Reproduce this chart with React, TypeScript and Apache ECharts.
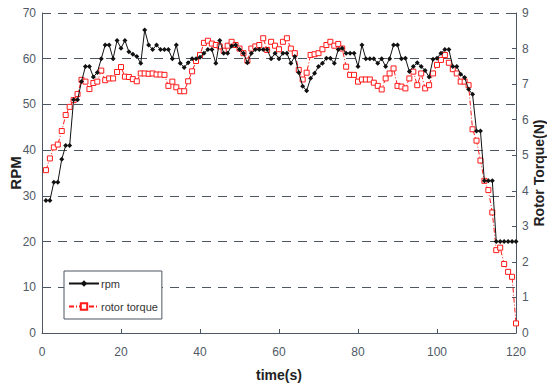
import React, { useEffect, useRef } from "react";
import * as echarts from "echarts";

const timeS: number[] = Array.from({ length: 120 }, (_, i) => i + 1);

const rpmValues: number[] = [
  29, 29, 33, 33, 38, 41, 41, 51, 51, 55,
  58.3, 58.3, 56, 57, 60, 63, 63, 60, 64, 62.3,
  64, 61.5, 61, 60.5, 59, 66.3, 63, 62, 63, 62,
  62, 62, 60, 63, 59, 58.1, 59.1, 60, 60, 60.3,
  61.2, 62, 62, 59, 64, 61.2, 61.2, 62.8, 63, 62,
  61.2, 59.1, 61.2, 62, 62, 62, 62, 60, 61.2, 60,
  61.2, 61.2, 59, 60.5, 57, 54, 53, 55.7, 56.8, 58.3,
  59, 60.1, 60.1, 59, 62, 62.3, 61.2, 61.2, 61.2, 58.3,
  63, 60, 60, 60, 59, 60, 58.3, 60, 63, 63,
  60, 60.1, 57.2, 58.3, 59.1, 58.3, 57.4, 56, 59.9, 60.1,
  61.2, 62, 62, 58.3, 58.3, 56.6, 55.9, 53.3, 52.2, 44.2,
  44.2, 33.3, 33.3, 33.3, 20, 20, 20, 20, 20, 20,
];

const torqueValues: number[] = [
  4.58, 4.91, 5.22, 5.3, 5.68, 6.13, 6.36, 6.55, 6.72, 7.12,
  7.07, 6.86, 7.03, 7.07, 7.38, 7.11, 7.16, 7.16, 7.34, 7.48,
  7.21, 7.2, 7.14, 7.08, 7.3, 7.3, 7.29, 7.3, 7.27, 7.27,
  7.26, 6.95, 7.07, 6.91, 6.8, 6.8, 7.08, 7.36, 7.65, 7.82,
  8.16, 8.22, 8.14, 8.1, 8.06, 7.94, 8.08, 8.19, 8.1, 8.0,
  7.87, 7.66, 8.0, 8.06, 8.1, 8.29, 7.96, 8.19, 8.08, 7.98,
  8.19, 8.29, 8.0, 7.87, 7.4, 7.13, 7.32, 7.82, 7.84, 7.87,
  7.98, 8.1, 8.19, 8.08, 8.13, 8.0, 7.49, 7.26, 7.26, 7.07,
  7.13, 7.13, 7.13, 7.04, 6.95, 6.85, 7.16, 7.3, 7.44, 6.95,
  6.93, 6.88, 7.16, 7.35, 6.97, 7.3, 6.88, 6.97, 7.3, 7.54,
  7.68, 7.82, 7.6, 7.42, 7.3, 7.07, 7.07, 6.97, 5.73, 5.41,
  4.85, 4.28, 4.02, 3.39, 2.33, 2.4, 1.94, 1.72, 1.58, 0.27,
];

const seriesNames: string[] = ["rpm", "rotor torque"];
const axisNames = { x: "time(s)", left: "RPM", right: "Rotor Torque(N)" };

const FONT = "Liberation Sans, Arial, sans-serif";
const AXIS_COLOR = "#4d5763";
const LABEL_COLOR = "#505a66";
const NAME_COLOR = "#222";

export default function App() {
  const ref = useRef<HTMLDivElement>(null);
  useEffect(() => {
    if (!ref.current) return;
    const chart = echarts.init(ref.current, null, { renderer: "svg" });
    const rpmData = timeS.map((t, i) => [t, rpmValues[i]]);
    const torqueData = timeS.map((t, i) => [t, torqueValues[i]]);
    chart.setOption({
      animation: false,
      backgroundColor: "#ffffff",
      textStyle: { fontFamily: FONT },
      grid: {
        left: 42,
        right: 31,
        top: 13,
        bottom: 52,
        containLabel: false,
        outerBoundsMode: "none",
      },
      graphic: [
        {
          type: "text",
          x: 15,
          y: 173,
          rotation: Math.PI / 2,
          style: {
            text: axisNames.left,
            font: `bold 15px ${FONT}`,
            fill: NAME_COLOR,
            textAlign: "center",
            textVerticalAlign: "middle",
          },
        },
        {
          type: "text",
          x: 539,
          y: 173,
          rotation: Math.PI / 2,
          style: {
            text: axisNames.right,
            font: `bold 14px ${FONT}`,
            fill: NAME_COLOR,
            textAlign: "center",
            textVerticalAlign: "middle",
          },
        },
        {
          type: "text",
          x: 279,
          y: 375,
          style: {
            text: axisNames.x,
            font: `bold 14px ${FONT}`,
            fill: NAME_COLOR,
            textAlign: "center",
            textVerticalAlign: "middle",
          },
        },
      ],
      legend: {
        orient: "vertical",
        left: 64,
        top: 271,
        data: seriesNames,
        backgroundColor: "#ffffff",
        borderColor: "#4d5763",
        borderWidth: 1,
        borderRadius: 0,
        padding: [7, 4, 7, 4],
        itemGap: 12,
        itemWidth: 30,
        itemHeight: 8,
        textStyle: { fontFamily: FONT, fontSize: 11, color: "#333", padding: [0, 0, 0, -3] },
      },
      xAxis: {
        type: "value",
        min: 0,
        max: 120,
        interval: 20,
        axisLine: { show: true, onZero: false, lineStyle: { color: AXIS_COLOR, width: 1 } },
        axisTick: { show: true, inside: true, length: 4, lineStyle: { color: AXIS_COLOR } },
        axisLabel: { color: LABEL_COLOR, fontSize: 12, fontFamily: FONT, margin: 13 },
        splitLine: { show: false },
      },
      yAxis: [
        {
          type: "value",
          min: 0,
          max: 70,
          interval: 10,
          position: "left",
          axisLine: { show: true, lineStyle: { color: AXIS_COLOR, width: 1 } },
          axisTick: { show: true, inside: true, length: 4, lineStyle: { color: AXIS_COLOR } },
          axisLabel: { color: LABEL_COLOR, fontSize: 12, fontFamily: FONT, margin: 6 },
          splitLine: { show: true, lineStyle: { color: "#4d5763", type: [9, 7], width: 1 } },
        },
        {
          type: "value",
          min: 0,
          max: 9,
          interval: 1,
          position: "right",
          axisLine: { show: true, lineStyle: { color: AXIS_COLOR, width: 1 } },
          axisTick: { show: true, inside: true, length: 4, lineStyle: { color: AXIS_COLOR } },
          axisLabel: { color: LABEL_COLOR, fontSize: 12, fontFamily: FONT, margin: 6 },
          splitLine: { show: false },
        },
      ],
      series: [
        {
          name: seriesNames[0],
          type: "line",
          yAxisIndex: 0,
          data: rpmData,
          symbol: "diamond",
          symbolSize: 5,
          showAllSymbol: true,
          itemStyle: { color: "#111" },
          lineStyle: { color: "#111", width: 1 },
          z: 3,
        },
        {
          name: seriesNames[1],
          type: "line",
          yAxisIndex: 1,
          data: torqueData,
          symbol: "rect",
          symbolSize: 5,
          showAllSymbol: true,
          itemStyle: { color: "#ffffff", borderColor: "#ff1a1a", borderWidth: 1 },
          lineStyle: { color: "#ff1a1a", width: 1, type: [5, 2, 1, 2] },
          z: 2,
        },
      ],
    });
    return () => chart.dispose();
  }, []);
  return (
    <div
      ref={ref}
      style={{ position: "fixed", left: 0, top: 0, width: 547, height: 385 }}
    />
  );
}
